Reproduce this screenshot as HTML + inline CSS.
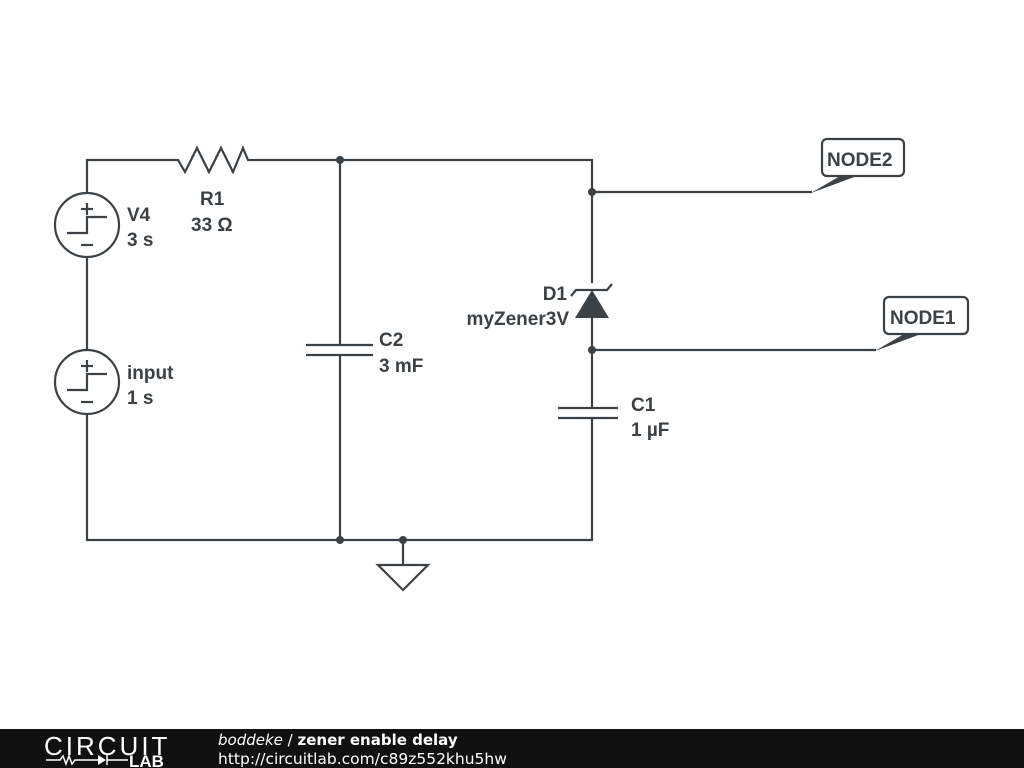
<!DOCTYPE html>
<html><head><style>
html,body{margin:0;padding:0;background:#fff;width:1024px;height:768px;overflow:hidden}
svg{display:block}
text{font-family:"Liberation Sans",sans-serif;font-weight:bold;font-size:19px;fill:#3b4145}
</style></head><body>
<svg width="1024" height="768" viewBox="0 0 1024 768">
<g stroke="#3b4145" stroke-width="2.2" fill="none" stroke-linejoin="miter">
<polyline points="87,193 87,160 178,160 185,172 197,148 209,172 221,148 233,172 243,148 248,160 592,160 592,283"/>
<line x1="87" y1="257" x2="87" y2="350"/>
<polyline points="87,414 87,540 592,540 592,418"/>
<line x1="592" y1="318" x2="592" y2="408"/>
<line x1="340" y1="160" x2="340" y2="345"/>
<line x1="340" y1="355" x2="340" y2="540"/>
<line x1="306" y1="345" x2="373" y2="345"/>
<line x1="306" y1="355" x2="373" y2="355"/>
<line x1="558" y1="408" x2="618" y2="408"/>
<line x1="558" y1="418" x2="618" y2="418"/>
<circle cx="87" cy="225" r="32"/>
<circle cx="87" cy="382" r="32"/>
<polyline points="67,233 87,233 87,217 107,217"/>
<polyline points="67,390 87,390 87,374 107,374"/>
<line x1="81" y1="209" x2="93" y2="209"/><line x1="87" y1="203" x2="87" y2="215"/>
<line x1="81" y1="245" x2="93" y2="245"/>
<line x1="81" y1="366" x2="93" y2="366"/><line x1="87" y1="360" x2="87" y2="372"/>
<line x1="81" y1="402" x2="93" y2="402"/>
<line x1="403" y1="540" x2="403" y2="565"/>
<polygon points="378,565 428,565 403,590"/>
<polyline points="571,296 576,290 607,290 612,284"/>
<line x1="592" y1="192" x2="812" y2="192"/>
<line x1="592" y1="350" x2="876" y2="350"/>
<rect x="822" y="139" width="82" height="37" rx="5"/>
<rect x="884" y="297" width="84" height="37" rx="5"/>
</g>
<g fill="#3b4145">
<polygon points="592,290 575,318 609,318"/>
<circle cx="340" cy="160" r="4"/><circle cx="340" cy="540" r="4"/><circle cx="403" cy="540" r="4"/>
<circle cx="592" cy="192" r="4"/><circle cx="592" cy="350" r="4"/>
<polygon points="811,193 840,176 857,176"/>
<polygon points="875,351 904,334 921,334"/>
</g>
<text x="127" y="221">V4</text><text x="127" y="246">3 s</text>
<text x="127" y="379">input</text><text x="127" y="404">1 s</text>
<text x="200" y="205">R1</text><text x="191" y="231">33 Ω</text>
<text x="379" y="346">C2</text><text x="379" y="372">3 mF</text>
<text x="631" y="411">C1</text><text x="631" y="436">1 µF</text>
<text x="567" y="300" text-anchor="end">D1</text><text x="569" y="325" text-anchor="end">myZener3V</text>
<text x="827" y="166">NODE2</text><text x="890" y="324">NODE1</text>
<rect x="0" y="729" width="1024" height="39" fill="#111"/>
<text x="44" y="755" style="font-weight:normal;font-size:26px;fill:#fff;letter-spacing:3px">CIRCUIT</text>
<text x="129" y="767" style="font-size:17px;fill:#fff">LAB</text>
<polyline points="46,760 60,760 63,756 66,764 69,756 72,764 75,760 98,760" stroke="#fff" stroke-width="1.5" fill="none"/>
<polygon points="98,755 98,765 106,760" fill="#fff"/><line x1="107" y1="755" x2="107" y2="765" stroke="#fff" stroke-width="1.5"/>
<line x1="107" y1="760" x2="128" y2="760" stroke="#fff" stroke-width="1.5"/>
<text x="218" y="745" style="font-family:'DejaVu Sans',sans-serif;font-weight:normal;font-style:italic;font-size:15px;fill:#fff">boddeke <tspan style="font-style:normal">/</tspan> <tspan style="font-weight:bold;font-style:normal">zener enable delay</tspan></text>
<text x="218" y="764" style="font-family:'DejaVu Sans',sans-serif;font-weight:normal;font-size:15.5px;fill:#fff">http://circuitlab.com/c89z552khu5hw</text>
</svg>
</body></html>
